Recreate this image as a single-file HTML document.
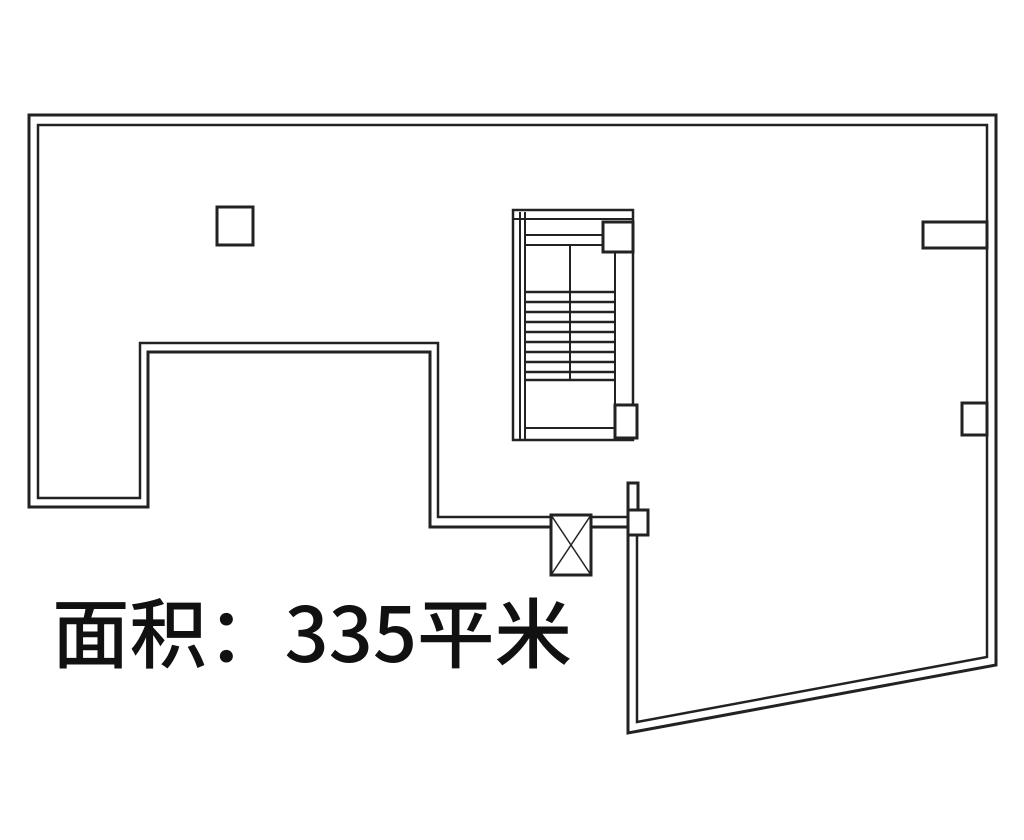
<!DOCTYPE html>
<html><head><meta charset="utf-8"><style>
html,body{margin:0;padding:0;background:#fff;width:1024px;height:840px;overflow:hidden}
</style></head><body>
<svg width="1024" height="840" viewBox="0 0 1024 840" xmlns="http://www.w3.org/2000/svg">
<g fill="none" stroke="#222" stroke-width="3">
<polygon points="29,115 996,115 996,665 628,733 628,527 430,527 430,352 148,352 148,507 29,507"/>
<polygon points="38,125 987,125 987,657 637,722 637,517 438,517 438,343 140,343 140,498 38,498" stroke-width="2.5"/>
<rect x="217" y="207" width="36" height="38"/>
<!-- stair -->
<rect x="513" y="210" width="120" height="230" stroke-width="2.5"/>
<line x1="520" y1="212" x2="520" y2="440" stroke-width="2"/>
<line x1="525" y1="212" x2="525" y2="440" stroke-width="2"/>
<line x1="513" y1="219" x2="633" y2="219" stroke-width="2"/>
<line x1="525" y1="235" x2="603" y2="235" stroke-width="2"/>
<line x1="525" y1="245" x2="615" y2="245" stroke-width="2"/>
<line x1="615" y1="252" x2="615" y2="405" stroke-width="2"/>
<line x1="570" y1="245" x2="570" y2="380" stroke-width="2"/>
<line x1="525" y1="428" x2="615" y2="428" stroke-width="2"/>
<rect x="603" y="222" width="30" height="30" fill="#fff"/>
<rect x="615" y="405" width="22" height="33" fill="#fff"/>
<!-- elevator -->
<rect x="551" y="515" width="40" height="60" fill="#fff"/>
<line x1="551" y1="515" x2="591" y2="575" stroke-width="1.5"/>
<line x1="591" y1="515" x2="551" y2="575" stroke-width="1.5"/>
<rect x="628" y="483" width="10" height="50" fill="#fff"/>
<rect x="628" y="510" width="20" height="25" fill="#fff"/>
<rect x="923" y="222" width="64" height="26"/>
<rect x="962" y="403" width="25" height="32"/>
</g>
<g stroke="#222" stroke-width="2.5">
<line x1="525" y1="292" x2="615" y2="292"/>
<line x1="525" y1="302" x2="615" y2="302"/>
<line x1="525" y1="312" x2="615" y2="312"/>
<line x1="525" y1="322" x2="615" y2="322"/>
<line x1="525" y1="332" x2="615" y2="332"/>
<line x1="525" y1="342" x2="615" y2="342"/>
<line x1="525" y1="352" x2="615" y2="352"/>
<line x1="525" y1="362" x2="615" y2="362"/>
<line x1="525" y1="372" x2="615" y2="372"/>
<line x1="525" y1="380" x2="615" y2="380"/>
</g>
<text x="52" y="662" font-family="'Noto Sans CJK SC', sans-serif" font-size="76" font-weight="500" fill="#111" textLength="520" lengthAdjust="spacingAndGlyphs">面积：335平米</text>
</svg>
</body></html>
